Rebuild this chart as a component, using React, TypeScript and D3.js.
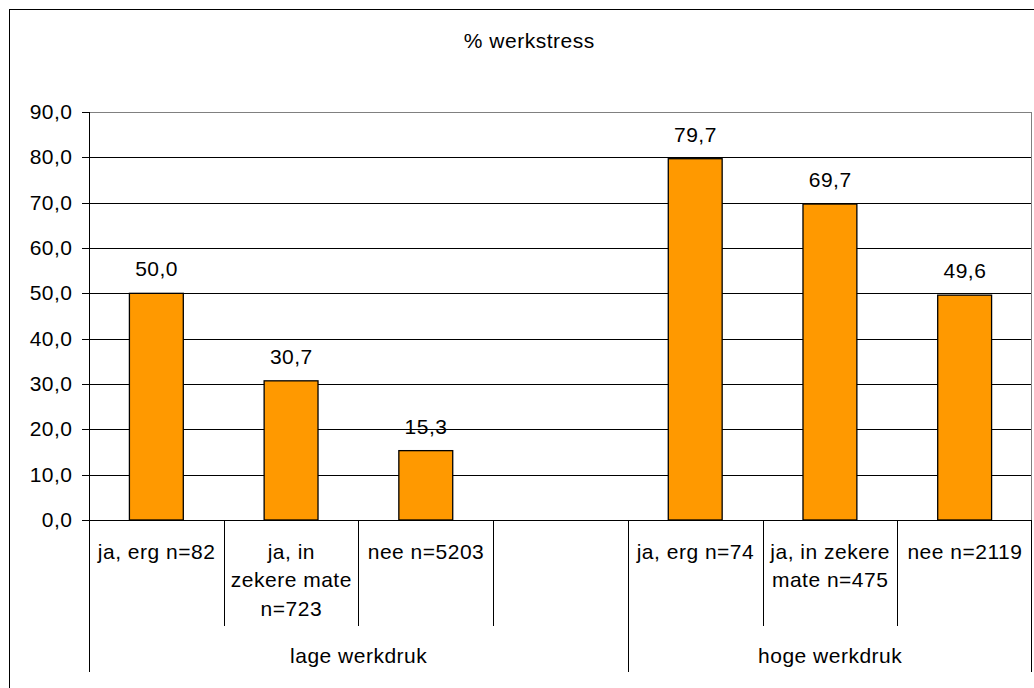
import React from "react";
import * as d3 from "d3";

const title = "% werkstress";
const categoryLines: string[][] = [
  ["ja, erg n=82"],
  ["ja, in", "zekere mate", "n=723"],
  ["nee n=5203"],
  [],
  ["ja, erg n=74"],
  ["ja, in zekere", "mate n=475"],
  ["nee n=2119"],
];
const values: (number | null)[] = [50.0, 30.7, 15.3, null, 79.7, 69.7, 49.6];
const groupLabels = ["lage werkdruk", "hoge werkdruk"];
const groupSpans = [4, 3];
const yTicks = [0, 10, 20, 30, 40, 50, 60, 70, 80, 90];

const W = 1034;
const H = 688;
const plot = { left: 89, right: 1032, top: 112, bottom: 520 };
const FONT = "'Liberation Sans', Arial, sans-serif";
const FS = 21;
const LS = 0.5;

const fmt = (v: number) => v.toFixed(1).replace(".", ",");

export default function App() {
  const idx = categoryLines.map((_, i) => String(i));
  const x = d3.scaleBand<string>().domain(idx).range([plot.left, plot.right]).paddingInner(0).paddingOuter(0);
  const y = d3.scaleLinear().domain([0, 90]).range([plot.bottom, plot.top]);
  const bw = x.bandwidth();
  const barW = bw * 0.4;

  const groupEdges: number[] = [0];
  groupSpans.forEach((s) => groupEdges.push(groupEdges[groupEdges.length - 1] + s));
  const edgeX = (k: number) => (k >= idx.length ? plot.right : (x(String(k)) as number));

  const innerY2 = 626;
  const outerY2 = 672;
  const lineH = 28.4;
  const firstBase = 559;

  return (
    <svg
      width={W}
      height={H}
      style={{ position: "absolute", left: 0, top: 0, background: "#fff" }}
      fontFamily={FONT}
      letterSpacing={LS}
    >
      <rect x={0} y={0} width={W} height={H} fill="#fff" />
      <rect x={9.5} y={9.5} width={1040} height={700} fill="none" stroke="#000" strokeWidth={1} />
      <text x={529 + LS / 2} y={48} textAnchor="middle" fontSize={FS} fill="#000">
        {title}
      </text>

      {yTicks.map((t) => (
        <line
          key={"g" + t}
          x1={plot.left}
          x2={plot.right}
          y1={Math.round(y(t)) + 0.5}
          y2={Math.round(y(t)) + 0.5}
          stroke={t === 90 ? "#808080" : "#000"}
          strokeWidth={1}
        />
      ))}
      <line x1={plot.right - 0.5} x2={plot.right - 0.5} y1={plot.top} y2={plot.bottom} stroke="#808080" strokeWidth={1} />

      {yTicks.map((t) => (
        <g key={"t" + t}>
          <line x1={82} x2={plot.left} y1={Math.round(y(t)) + 0.5} y2={Math.round(y(t)) + 0.5} stroke="#000" />
          <text x={72 + LS} y={y(t) + 7} textAnchor="end" fontSize={FS} fill="#000">
            {fmt(t)}
          </text>
        </g>
      ))}

      {values.map((v, i) =>
        v == null ? null : (
          <g key={"b" + i}>
            <rect
              x={(x(String(i)) as number) + (bw - barW) / 2}
              y={y(v)}
              width={barW}
              height={y(0) - y(v)}
              fill="#FF9900"
              stroke="#000"
              strokeWidth={1.3}
            />
            <text
              x={(x(String(i)) as number) + bw / 2 + LS / 2}
              y={y(v) - 17}
              textAnchor="middle"
              fontSize={FS}
              fill="#000"
            >
              {fmt(v)}
            </text>
          </g>
        )
      )}

      <line x1={plot.left} x2={plot.right} y1={plot.bottom + 0.5} y2={plot.bottom + 0.5} stroke="#000" />
      <line x1={plot.left + 0.5} x2={plot.left + 0.5} y1={plot.top} y2={plot.bottom} stroke="#000" />

      {d3.range(idx.length + 1).map((k) => {
        const isOuter = groupEdges.includes(k);
        const xx = Math.round(edgeX(k)) - (k === idx.length ? 0.5 : -0.5);
        return (
          <line
            key={"d" + k}
            x1={xx}
            x2={xx}
            y1={plot.bottom}
            y2={isOuter ? outerY2 : innerY2}
            stroke="#000"
          />
        );
      })}

      {categoryLines.map((lines, i) => (
        <text key={"c" + i} textAnchor="middle" fontSize={FS} fill="#000">
          {lines.map((ln, j) => (
            <tspan key={j} x={(x(String(i)) as number) + bw / 2 + LS / 2} y={firstBase + j * lineH}>
              {ln}
            </tspan>
          ))}
        </text>
      ))}

      {groupLabels.map((g, k) => {
        const x0 = edgeX(groupEdges[k]);
        const x1 = edgeX(groupEdges[k + 1]);
        return (
          <text key={"gl" + k} x={(x0 + x1) / 2 + LS / 2} y={663} textAnchor="middle" fontSize={FS} fill="#000">
            {g}
          </text>
        );
      })}
    </svg>
  );
}
